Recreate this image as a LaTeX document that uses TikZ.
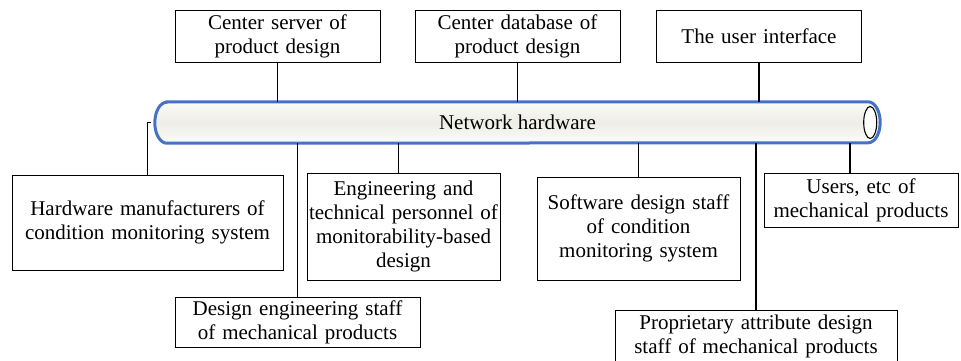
\documentclass[tikz,border=0pt]{standalone}
\usepackage{fontspec}
\setmainfont{Liberation Serif}
\usepackage{tikz}
\usetikzlibrary{backgrounds}

\definecolor{tubeedge}{RGB}{68,114,196}
\definecolor{tubemid}{RGB}{238,238,231}
\definecolor{tubelight}{RGB}{251,251,248}

\tikzset{
  box/.style={draw, color=black, line width=0.9pt, align=center,
    inner sep=0pt, font=\fontsize{21}{24}\selectfont},
  link/.style={draw=black, line width=1.1pt}
}

\begin{document}
\begin{tikzpicture}[x=1pt, y=1pt]
\useasboundingbox (0,0) rectangle (961,-360);

\node[font=\fontsize{21}{24}\selectfont, minimum width=725pt,
  minimum height=41pt, inner sep=0pt] (net) at (517.5,-122.5) {Network hardware};
\begin{scope}[on background layer]
\draw[draw=tubeedge, line width=3pt, top color=tubelight,
  bottom color=tubelight, middle color=tubemid]
  ([xshift=12]net.north west) -- ([xshift=-12]net.north east)
  arc[start angle=90, end angle=-90, x radius=12, y radius=20.5]
  -- ([xshift=12]net.south west)
  arc[start angle=270, end angle=90, x radius=12, y radius=20.5] -- cycle;
\end{scope}
\draw[line width=1.1pt, fill=white] ([xshift=-10]net.east)
  ellipse[x radius=6.5, y radius=16];

\node[box, minimum width=205pt, minimum height=52pt, text width=200pt]
  (srv) at (277.5,-36) {Center server of\\product design};
\node[box, minimum width=205pt, minimum height=52pt, text width=200pt]
  (db) at (517.5,-36) {Center database of\\product design};
\node[box, minimum width=205pt, minimum height=52pt, text width=200pt]
  (ui) at (759,-36) {The user interface};

\node[box, minimum width=271pt, minimum height=95pt, text width=265pt]
  (hw) at (147.5,-222.5) {Hardware manufacturers of\\condition monitoring system};
\node[box, minimum width=193pt, minimum height=107pt, text width=190pt]
  (eng) at (403.5,-226.5) {Engineering and\\technical personnel of\\monitorability-based\\design};
\node[box, minimum width=203pt, minimum height=103pt, text width=200pt]
  (sw) at (638.5,-228.5) {Software design staff\\of condition\\monitoring system};
\node[box, minimum width=194pt, minimum height=54pt, text width=190pt]
  (usr) at (861,-200) {Users, etc of\\mechanical products};
\node[box, minimum width=245pt, minimum height=50pt, text width=240pt]
  (des) at (297.5,-322) {Design engineering staff\\of mechanical products};
\node[box, minimum width=282pt, minimum height=52pt, text width=278pt]
  (prop) at (756,-336) {Proprietary attribute design\\staff of mechanical products};

\draw[link] (srv.south) -- (srv.south |- net.north);
\draw[link] (db.south) -- (db.south |- net.north);
\draw[link] (ui.south) -- (ui.south |- net.north);
\draw[link] ([xshift=-4]net.west) -| (hw.north);
\draw[link] ([xshift=-5]eng.north) -- ([xshift=-5]eng.north |- net.south);
\draw[link] (sw.north) -- (sw.north |- net.south);
\draw[link] ([xshift=-11]usr.north) -- ([xshift=-11]usr.north |- net.south);
\draw[link] (des.north) -- (des.north |- net.south);
\draw[link] (prop.north) -- (prop.north |- net.south);
\end{tikzpicture}
\end{document}
